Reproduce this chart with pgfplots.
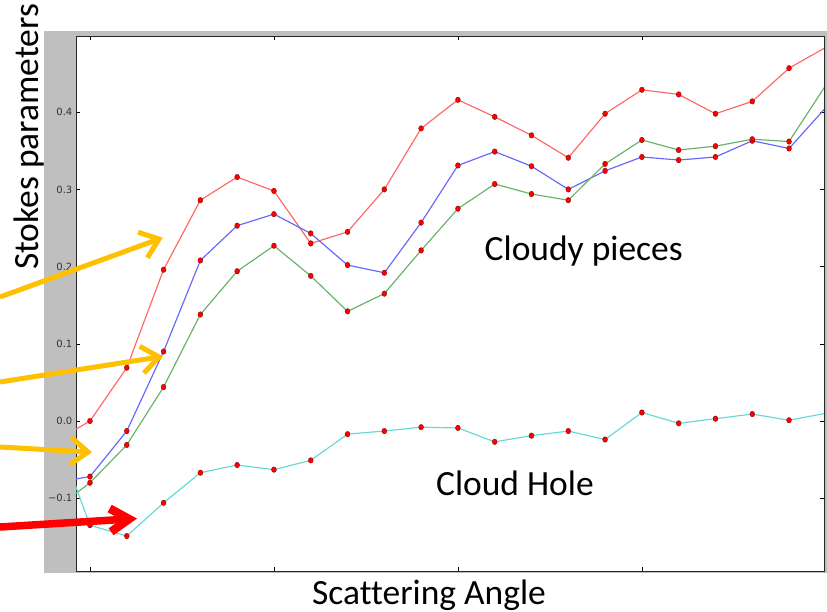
\documentclass[border=0pt]{standalone}
\usepackage{pgfplots}
\pgfplotsset{compat=1.18}
\usepackage{pgfplotstable}
\usepackage{fontspec}
\setmainfont{Carlito}[Ligatures=NoCommon]
\newfontfamily\dejavu{DejaVu Sans}
\usetikzlibrary{calc}
\definecolor{figgray}{RGB}{191,191,191}
\definecolor{arrowor}{RGB}{255,192,0}
\definecolor{lred}{RGB}{255,102,102}
\definecolor{lblue}{RGB}{102,102,255}
\definecolor{lgreen}{RGB}{102,178,102}
\definecolor{lcyan}{RGB}{102,216,216}

\pgfplotstableread{
x   red     blue    green   cyan
-1  -0.028  -0.080  -0.116  -0.005
0   0.000   -0.072  -0.080  -0.135
1   0.069   -0.013  -0.031  -0.149
2   0.196   0.090   0.044   -0.106
3   0.286   0.208   0.138   -0.067
4   0.316   0.253   0.194   -0.057
5   0.298   0.268   0.227   -0.063
6   0.230   0.243   0.188   -0.051
7   0.245   0.202   0.142   -0.017
8   0.300   0.192   0.165   -0.013
9   0.379   0.257   0.221   -0.008
10  0.416   0.331   0.275   -0.009
11  0.394   0.349   0.307   -0.027
12  0.370   0.330   0.294   -0.019
13  0.341   0.300   0.286   -0.013
14  0.398   0.324   0.333   -0.024
15  0.429   0.342   0.364   0.011
16  0.423   0.338   0.351   -0.003
17  0.398   0.342   0.356   0.003
18  0.414   0.363   0.365   0.009
19  0.457   0.353   0.362   0.001
20  0.484   0.406   0.435   0.010
}\stokes

\newcommand{\chevarrow}[7]{% color, shaft width, arm width, armlen, angle, start, tip
  \draw[#1, line width=#2] #6 -- #7;
  \draw[#1, line width=#3, line join=miter, line cap=butt]
    ($#7!#4!#5:#6$) -- #7 -- ($#7!#4!-#5:#6$);
}

\begin{document}
\begin{tikzpicture}
\useasboundingbox (0,0) rectangle (827bp,-612bp);
\fill[figgray] (44bp,-31bp) rectangle (827bp,-573bp);
\begin{axis}[
  at={(76bp,-36bp)}, anchor=north west,
  scale only axis, width=748bp, height=535bp,
  xmin=-0.38, xmax=19.95, ymin=-0.1943, ymax=0.4987,
  axis background/.style={fill=white},
  axis line style={black!85, line width=0.8bp},
  tick align=inside, major tick length=4bp,
  tick style={black, line width=0.5bp},
  xtick={0,5,10,15}, xticklabels={},
  ytick={-0.1,0,0.1,0.2,0.3,0.4},
  yticklabels={−0.1,0.0,0.1,0.2,0.3,0.4},
  yticklabel style={font=\dejavu\fontsize{10}{12}\selectfont, text=black!80, inner sep=0pt, xshift=-3.5bp},
  clip marker paths=true,
  xlabel={Scattering Angle},
  ylabel={Stokes parameters},
  every axis x label/.style={at={(rel axis cs:0.4719,-0.0617)}, anchor=base, font=\fontsize{35.6}{40}\selectfont},
  every axis y label/.style={at={(rel axis cs:-0.0508,0.8112)}, anchor=base, rotate=90, font=\fontsize{35.6}{40}\selectfont},
  every axis plot/.append style={line width=1.15bp, mark=*, mark size=2.8bp,
     mark options={fill=red, draw=red!45!black, line width=0.3bp, solid, xscale=0.88}},
]
\addplot[lred] table[x=x, y=red] {\stokes};
\addplot[lblue] table[x=x, y=blue] {\stokes};
\addplot[lgreen] table[x=x, y=green] {\stokes};
\addplot[lcyan] table[x=x, y=cyan] {\stokes};
\node[anchor=base, font=\fontsize{35.6}{40}\selectfont] at (axis cs:13.42,0.2085) {Cloudy pieces};
\node[anchor=base, font=\fontsize{35.6}{40}\selectfont] at (axis cs:11.55,-0.0971) {Cloud Hole};
\end{axis}
\chevarrow{arrowor}{5bp}{5bp}{22bp}{38}{(0,-297bp)}{(159bp,-239bp)}
\chevarrow{arrowor}{5bp}{5bp}{22bp}{38}{(0,-382bp)}{(159bp,-357bp)}
\chevarrow{arrowor}{5bp}{5bp}{22bp}{38}{(0,-447bp)}{(88bp,-452bp)}
\chevarrow{red}{7.5bp}{8.5bp}{22bp}{32}{(0,-527bp)}{(129bp,-519bp)}
\end{tikzpicture}
\end{document}
